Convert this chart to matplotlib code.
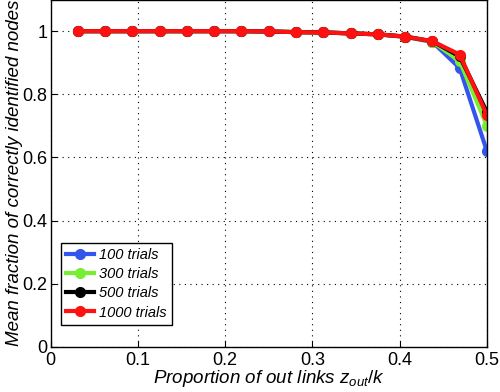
import matplotlib.pyplot as plt
import numpy as np

plt.rcParams['font.family'] = ['Liberation Sans', 'DejaVu Sans']
plt.rcParams['mathtext.fontset'] = 'custom'
plt.rcParams['mathtext.it'] = 'Liberation Sans:italic'
plt.rcParams['mathtext.rm'] = 'Liberation Sans'

# proportion of out links z_out/k
zout = [1/32, 2/32, 3/32, 4/32, 5/32, 6/32, 7/32, 8/32,
        9/32, 10/32, 11/32, 12/32, 13/32, 14/32, 15/32, 16/32]

trials_100 = [1.0, 1.0, 1.0, 1.0, 1.0, 1.0, 1.0, 0.999,
              0.997, 0.996, 0.993, 0.990, 0.982, 0.966, 0.883, 0.619]
trials_300 = [1.0, 1.0, 1.0, 1.0, 1.0, 1.0, 1.0, 0.999,
              0.997, 0.996, 0.993, 0.990, 0.982, 0.967, 0.905, 0.700]
trials_500 = [1.0, 1.0, 1.0, 1.0, 1.0, 1.0, 1.0, 0.999,
              0.997, 0.996, 0.993, 0.990, 0.983, 0.968, 0.920, 0.743]
trials_1000 = [1.0, 1.0, 1.0, 1.0, 1.0, 1.0, 1.0, 0.999,
               0.997, 0.996, 0.993, 0.990, 0.983, 0.968, 0.926, 0.733]

fig = plt.figure(figsize=(5, 3.92), dpi=100)
ax = fig.add_axes([0.101, 0.115, 0.873, 0.886])

ax.plot(zout, trials_100, '-o', color='#3355ee', lw=3, ms=7, label='100 trials')
ax.plot(zout, trials_300, '-o', color='#77ee33', lw=3, ms=7, label='300 trials')
ax.plot(zout, trials_500, '-o', color='black', lw=3, ms=7, label='500 trials')
ax.plot(zout, trials_1000, '-o', color='#ff1111', lw=3, ms=7, label='1000 trials')

ax.set_xlim(0, 0.5)
ax.set_ylim(0, 1.1)
ax.set_xticks([0, 0.1, 0.2, 0.3, 0.4, 0.5])
ax.set_xticklabels(['0', '0.1', '0.2', '0.3', '0.4', '0.5'])
ax.set_yticks([0, 0.2, 0.4, 0.6, 0.8, 1.0])
ax.set_yticklabels(['0', '0.2', '0.4', '0.6', '0.8', '1'])
ax.tick_params(direction='in', labelsize=13, length=4)
ax.tick_params(axis='x', pad=4)
ax.tick_params(axis='y', pad=2)
ax.grid(True, linestyle=(0, (1, 4)), color='black', lw=0.8)
for s in ax.spines.values():
    s.set_linewidth(1.0)

ax.set_xlabel('Proportion of out links $z_{out}/k$', fontsize=13.5, style='italic', labelpad=-1)
ax.set_ylabel('Mean fraction of correctly identified nodes', fontsize=13.5, style='italic', labelpad=0)

leg = ax.legend(loc='lower left', bbox_to_anchor=(0.024, 0.064), prop={'style': 'italic', 'size': 10.5},
                fancybox=False, edgecolor='black', framealpha=1, handlelength=1.9,
                borderpad=0.35, labelspacing=0.35, handletextpad=0.35, borderaxespad=0)
leg.get_frame().set_linewidth(1.0)

fig.savefig('out.png', dpi=100)
